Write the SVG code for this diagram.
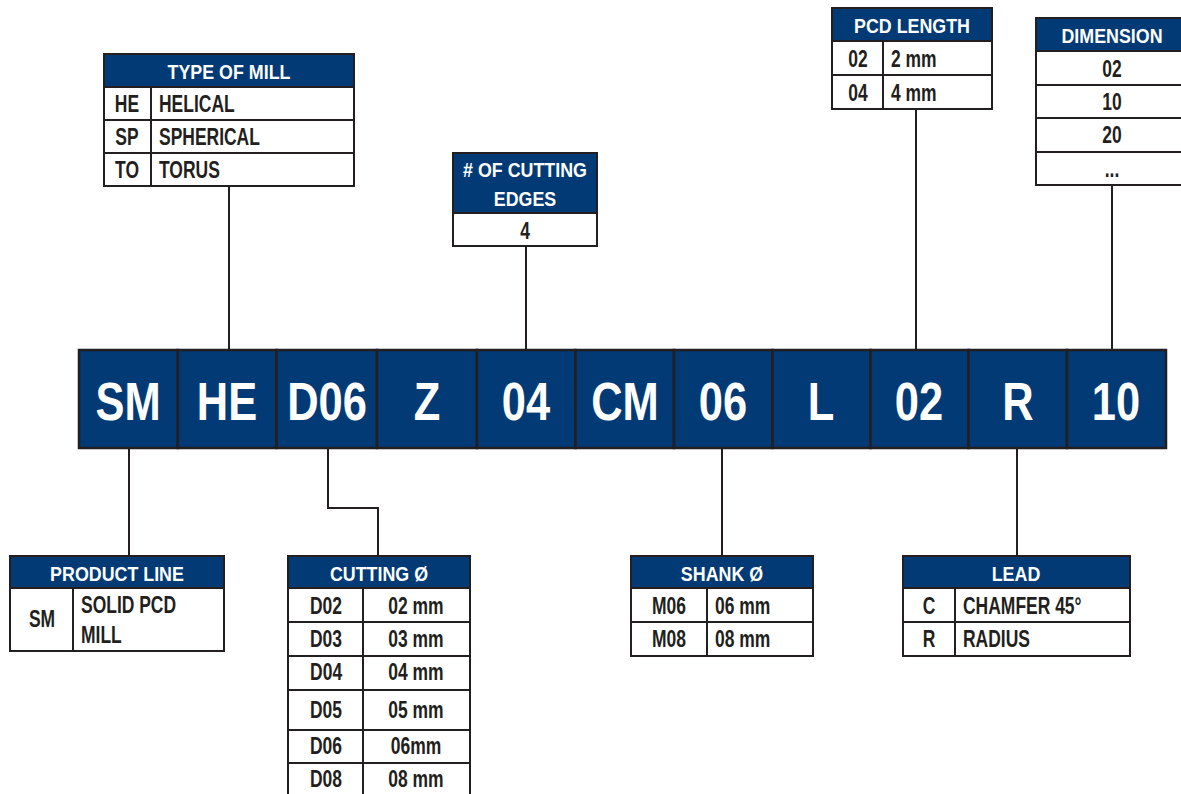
<svg xmlns="http://www.w3.org/2000/svg" width="1181" height="794" viewBox="0 0 1181 794">
<style>
text{font-family:"Liberation Sans Narrow","Liberation Sans",Arial,sans-serif;font-weight:bold;transform-box:fill-box;}
.cell{fill:#013a75;stroke:#231f20;stroke-width:2.5;}
.big{fill:#fff;font-size:53px;text-anchor:middle;transform-origin:center;transform:scaleX(0.82);}
.hd{fill:#013a75;stroke:#231f20;stroke-width:2;}
.row{fill:#fff;stroke:#231f20;stroke-width:2;}
.ht{fill:#fff;font-size:21px;text-anchor:middle;transform-origin:center;transform:scaleX(0.85);}
.t{fill:#231f20;font-size:23px;transform-origin:left center;transform:scaleX(0.76);}
.t.c{text-anchor:middle;transform-origin:center;}
.ln{fill:none;stroke:#231f20;stroke-width:2;}
</style>
<rect width="1181" height="794" fill="#fff"/>
<g id="connectors">
<path class="ln" d="M229 186V350"/>
<path class="ln" d="M526 246V350"/>
<path class="ln" d="M916 109V350"/>
<path class="ln" d="M1112 185V350"/>
<path class="ln" d="M129 448V556"/>
<path class="ln" d="M328 448V508H378V556"/>
<path class="ln" d="M722 448V556"/>
<path class="ln" d="M1017 448V556"/>
</g>
<g id="code">
<rect class="cell" x="79" y="350" width="98.8" height="98"/>
<rect class="cell" x="177.8" y="350" width="98.8" height="98"/>
<rect class="cell" x="276.6" y="350" width="100.4" height="98"/>
<rect class="cell" x="377" y="350" width="100" height="98"/>
<rect class="cell" x="477" y="350" width="98.5" height="98"/>
<rect class="cell" x="575.5" y="350" width="98.5" height="98"/>
<rect class="cell" x="674" y="350" width="98.5" height="98"/>
<rect class="cell" x="772.5" y="350" width="98" height="98"/>
<rect class="cell" x="870.5" y="350" width="98" height="98"/>
<rect class="cell" x="968.5" y="350" width="98.5" height="98"/>
<rect class="cell" x="1067" y="350" width="99" height="98"/>
<text class="big" x="128" y="420">SM</text>
<text class="big" x="227" y="420">HE</text>
<text class="big" x="327" y="420">D06</text>
<text class="big" x="427" y="420">Z</text>
<text class="big" x="526" y="420">04</text>
<text class="big" x="625" y="420">CM</text>
<text class="big" x="723" y="420">06</text>
<text class="big" x="821" y="420">L</text>
<text class="big" x="919" y="420">02</text>
<text class="big" x="1018" y="420">R</text>
<text class="big" x="1116" y="420">10</text>
</g>
<g id="type-of-mill">
<rect class="hd" x="104" y="54" width="250" height="33"/>
<rect class="row" x="104" y="87" width="250" height="33"/>
<rect class="row" x="104" y="120" width="250" height="33"/>
<rect class="row" x="104" y="153" width="250" height="33"/>
<path class="ln" d="M151 87V186"/>
<text class="ht" x="229" y="79">TYPE OF MILL</text>
<text class="t c" x="127" y="112">HE</text><text class="t" x="159" y="112">HELICAL</text>
<text class="t c" x="127" y="145">SP</text><text class="t" x="159" y="145">SPHERICAL</text>
<text class="t c" x="127" y="178">TO</text><text class="t" x="159" y="178">TORUS</text>
</g>
<g id="cutting-edges">
<rect class="hd" x="453" y="153" width="144" height="60"/>
<rect class="row" x="453" y="213" width="144" height="33"/>
<text class="ht" x="525" y="177">#&#160;OF CUTTING</text>
<text class="ht" x="525" y="206">EDGES</text>
<text class="t c" x="525" y="239">4</text>
</g>
<g id="pcd-length">
<rect class="hd" x="832" y="8" width="160" height="33"/>
<rect class="row" x="832" y="41" width="160" height="34"/>
<rect class="row" x="832" y="75" width="160" height="34"/>
<path class="ln" d="M883 41V109"/>
<text class="ht" x="912" y="33">PCD LENGTH</text>
<text class="t c" x="858" y="67">02</text><text class="t" x="891" y="67">2 mm</text>
<text class="t c" x="858" y="101">04</text><text class="t" x="891" y="101">4 mm</text>
</g>
<g id="dimension">
<rect class="hd" x="1036" y="18" width="156" height="33"/>
<rect class="row" x="1036" y="51" width="156" height="34"/>
<rect class="row" x="1036" y="85" width="156" height="33"/>
<rect class="row" x="1036" y="118" width="156" height="34"/>
<rect class="row" x="1036" y="152" width="156" height="33"/>
<text class="ht" x="1112" y="43">DIMENSION</text>
<text class="t c" x="1112" y="77">02</text>
<text class="t c" x="1112" y="110">10</text>
<text class="t c" x="1112" y="143">20</text>
<text class="t c" x="1112" y="177">...</text>
</g>
<g id="product-line">
<rect class="hd" x="10" y="556" width="214" height="32"/>
<rect class="row" x="10" y="588" width="214" height="63"/>
<path class="ln" d="M73 588V651"/>
<text class="ht" x="117" y="581">PRODUCT LINE</text>
<text class="t c" x="42" y="627">SM</text>
<text class="t" x="81" y="613">SOLID PCD</text>
<text class="t" x="81" y="643">MILL</text>
</g>
<g id="cutting-diameter">
<rect class="hd" x="288" y="556" width="182" height="32"/>
<rect class="row" x="288" y="588" width="182" height="34"/>
<rect class="row" x="288" y="622" width="182" height="34"/>
<rect class="row" x="288" y="656" width="182" height="34"/>
<rect class="row" x="288" y="690" width="182" height="40"/>
<rect class="row" x="288" y="730" width="182" height="33"/>
<rect class="row" x="288" y="763" width="182" height="40"/>
<path class="ln" d="M363 588V800"/>
<text class="ht" x="379" y="581">CUTTING Ø</text>
<text class="t c" x="326" y="614">D02</text><text class="t c" x="416" y="614">02 mm</text>
<text class="t c" x="326" y="647">D03</text><text class="t c" x="416" y="647">03 mm</text>
<text class="t c" x="326" y="680">D04</text><text class="t c" x="416" y="680">04 mm</text>
<text class="t c" x="326" y="718">D05</text><text class="t c" x="416" y="718">05 mm</text>
<text class="t c" x="326" y="754">D06</text><text class="t c" x="416" y="754">06mm</text>
<text class="t c" x="326" y="787">D08</text><text class="t c" x="416" y="787">08 mm</text>
</g>
<g id="shank-diameter">
<rect class="hd" x="631" y="556" width="182" height="32"/>
<rect class="row" x="631" y="588" width="182" height="34"/>
<rect class="row" x="631" y="622" width="182" height="34"/>
<path class="ln" d="M707 588V656"/>
<text class="ht" x="722" y="581">SHANK Ø</text>
<text class="t c" x="669" y="614">M06</text><text class="t" x="715" y="614">06 mm</text>
<text class="t c" x="669" y="647">M08</text><text class="t" x="715" y="647">08 mm</text>
</g>
<g id="lead">
<rect class="hd" x="903" y="556" width="227" height="32"/>
<rect class="row" x="903" y="588" width="227" height="34"/>
<rect class="row" x="903" y="622" width="227" height="34"/>
<path class="ln" d="M955 588V656"/>
<text class="ht" x="1016" y="581">LEAD</text>
<text class="t c" x="929" y="614">C</text><text class="t" x="963" y="614">CHAMFER 45°</text>
<text class="t c" x="929" y="647">R</text><text class="t" x="963" y="647">RADIUS</text>
</g>
</svg>
